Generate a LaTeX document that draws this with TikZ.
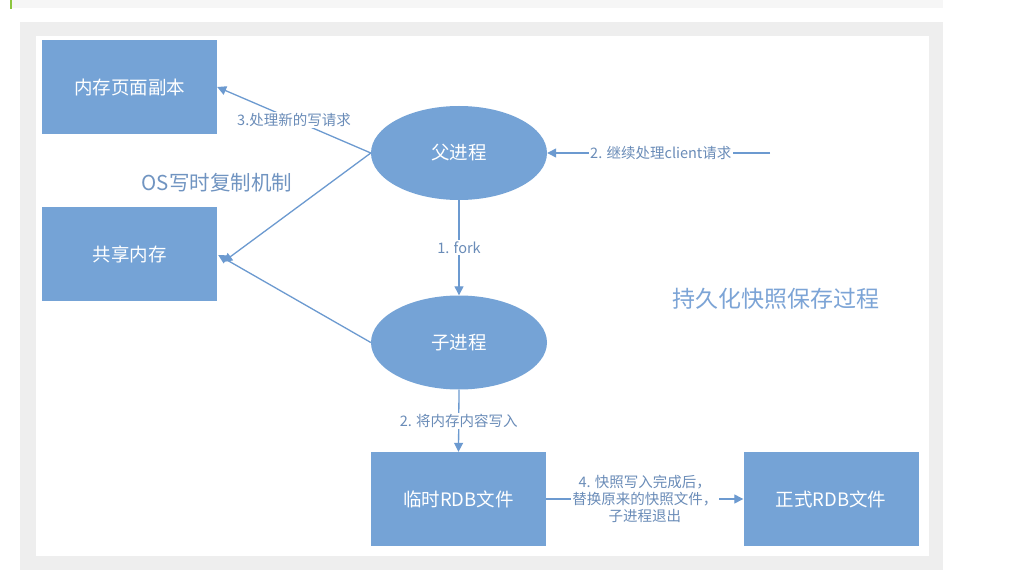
\documentclass[tikz,border=0pt]{standalone}
\usepackage{fontspec}
\setmainfont{Noto Sans CJK SC}
\usetikzlibrary{shapes.geometric,arrows.meta}
\definecolor{boxblue}{HTML}{75A3D6}
\definecolor{lineblue}{HTML}{6C9AD0}
\definecolor{lblcol}{HTML}{6A8CB8}
\definecolor{titlecol}{HTML}{7CA4D6}
\definecolor{frame}{HTML}{EEEEEE}
\definecolor{topbar}{HTML}{F6F6F6}
\definecolor{greenbar}{HTML}{8CC63F}
\tikzset{
  box/.style={rectangle, fill=boxblue, text=white, minimum width=175pt, minimum height=94pt, inner sep=0pt, font=\fontsize{18.5}{22}\selectfont},
  proc/.style={ellipse, fill=boxblue, text=white, minimum width=176pt, minimum height=94pt, inner sep=0pt, font=\fontsize{18.5}{22}\selectfont},
  arr/.style={draw=lineblue, line width=1.3pt, -{Triangle[length=9pt,width=9pt]}},
  lbl/.style={fill=white, text=lblcol, inner sep=1.5pt, font=\fontsize{14.5}{17}\selectfont},
  bigtxt/.style={inner sep=0pt, font=\fontsize{#1}{#1}\selectfont}
}
\begin{document}
\begin{tikzpicture}[x=1pt,y=-1pt]
\useasboundingbox (0,0) rectangle (1033,572);
% page background
\fill[topbar] (10,0) rectangle (943,8);
\fill[greenbar] (10,0) rectangle (12,9);
\fill[frame] (20,22) rectangle (943,570);
\fill[white] (36,36) rectangle (929,556);

% nodes
\node[box] (copy) at (129.5,87) {内存页面副本};
\node[box] (share) at (129.5,254) {共享内存};
\node[proc] (fu) at (459,153) {父进程};
\node[proc] (zi) at (459,342.5) {子进程};
\node[box] (tmp) at (458.5,499) {临时RDB文件};
\node[box] (rdb) at (831,499) {正式RDB文件};

\node[bigtxt=20.5, text=titlecol!90!black] (os) at (217,183) {OS写时复制机制};
\node[bigtxt=23, text=titlecol] (title) at (776,299) {持久化快照保存过程};

\coordinate (client) at (770,153);

% connectors
\draw[arr] (fu.west) -- node[lbl, pos=0.5] {3.处理新的写请求} (copy.east);
\draw[arr] (fu.west) -- ([xshift=6pt,yshift=-8pt]share.east);
\draw[arr] (zi.west) -- ([xshift=1pt,yshift=-1pt]share.east);
\draw[arr] (client) -- node[lbl, pos=0.49] {2. 继续处理client请求} (fu.east);
\draw[arr] (fu.south) -- node[lbl, pos=0.5] {1. fork} (zi.north);
\draw[arr] (zi.south) -- node[lbl, pos=0.5] {2. 将内存内容写入} (tmp.north);
\draw[arr] (tmp.east) -- node[lbl, pos=0.5, align=center] {4. 快照写入完成后，\\替换原来的快照文件，\\子进程退出} (rdb.west);
\end{tikzpicture}
\end{document}
